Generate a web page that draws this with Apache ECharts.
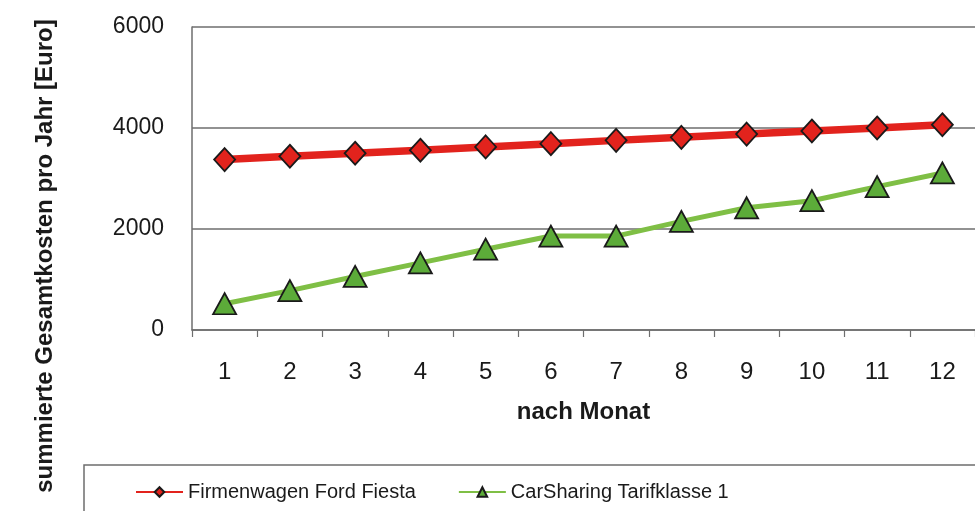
<!DOCTYPE html>
<html>
<head>
<meta charset="utf-8">
<script src="https://cdn.jsdelivr.net/npm/echarts@6/dist/echarts.min.js"></script>
<style>
  html, body { margin: 0; padding: 0; background: #ffffff; }
  #chart { width: 975px; height: 511px; }
</style>
</head>
<body>
<div id="chart"></div>
<script>
// Months after which the annual costs are summed
const months = ['1', '2', '3', '4', '5', '6', '7', '8', '9', '10', '11', '12'];
// Company car (Ford Fiesta), cumulative annual cost in euros
const firmenwagen = [3375, 3440, 3500, 3560, 3625, 3690, 3755, 3815, 3880, 3940, 4000, 4065];
// Car sharing, tariff class 1, cumulative annual cost in euros
const carSharing = [520, 780, 1060, 1330, 1600, 1860, 1860, 2150, 2420, 2560, 2840, 3110];
// Value axis ticks
const yTicks = [0, 2000, 4000, 6000];

const seriesNames = ['Firmenwagen Ford Fiesta', 'CarSharing Tarifklasse 1'];
const yTitle = 'summierte Gesamtkosten pro Jahr [Euro]';
const FONT = '"Liberation Sans", Arial, sans-serif';

const chart = echarts.init(document.getElementById('chart'), null, { renderer: 'canvas' });

chart.setOption({
  animation: false,
  backgroundColor: '#ffffff',
  grid: { left: 192, top: 27, width: 791, bottom: 181, containLabel: false },
  xAxis: {
    type: 'category',
    data: months,
    boundaryGap: true,
    axisLine: { show: true, lineStyle: { color: '#6e6e6e', width: 1.5 } },
    axisTick: { show: true, alignWithLabel: false, length: 7, lineStyle: { color: '#6e6e6e', width: 1.2 } },
    axisLabel: { margin: 30, fontFamily: FONT, fontSize: 24, color: '#1a1a1a' },
    splitLine: { show: false },
    name: 'nach Monat',
    nameLocation: 'middle',
    nameGap: 70,
    nameTextStyle: { fontFamily: FONT, fontSize: 24, fontWeight: 'bold', color: '#1a1a1a' }
  },
  yAxis: {
    type: 'value',
    min: yTicks[0],
    max: yTicks[yTicks.length - 1],
    interval: yTicks[1] - yTicks[0],
    axisLine: { show: true, lineStyle: { color: '#6e6e6e', width: 1.5 } },
    axisTick: { show: false },
    axisLabel: {
      margin: 28,
      fontFamily: FONT,
      fontSize: 23,
      color: '#1a1a1a',
      formatter: (v) => String(v)
    },
    splitLine: { show: true, lineStyle: { color: '#6e6e6e', width: 1.5 } }
  },
  legend: {
    data: seriesNames,
    left: 130,
    top: 477,
    itemWidth: 47,
    itemHeight: 12,
    itemGap: 42,
    textStyle: { fontFamily: FONT, fontSize: 20, color: '#1a1a1a' }
  },
  graphic: [
    {
      // frame around the legend
      type: 'rect',
      shape: { x: 84, y: 465, width: 1000, height: 100 },
      style: { fill: 'none', stroke: '#6e6e6e', lineWidth: 1.5 },
      silent: true,
      z: -1
    },
    {
      // value axis title, rotated
      type: 'text',
      x: 45,
      y: 256,
      rotation: Math.PI / 2,
      style: {
        text: yTitle,
        fontFamily: FONT,
        fontSize: 24,
        fontWeight: 'bold',
        fill: '#1a1a1a',
        align: 'center',
        verticalAlign: 'middle'
      },
      silent: true
    }
  ],
  series: [
    {
      name: seriesNames[0],
      type: 'line',
      data: firmenwagen,
      symbol: 'diamond',
      symbolSize: [21, 23],
      lineStyle: { color: '#e2231d', width: 7.5 },
      itemStyle: { color: '#e2231d', borderColor: '#1a1a1a', borderWidth: 1.8 },
      z: 3
    },
    {
      name: seriesNames[1],
      type: 'line',
      data: carSharing,
      symbol: 'triangle',
      symbolSize: [23, 21],
      lineStyle: { color: '#7fbf45', width: 5 },
      itemStyle: { color: '#5cab39', borderColor: '#1a1a1a', borderWidth: 1.8 },
      z: 2
    }
  ]
});
</script>
</body>
</html>
